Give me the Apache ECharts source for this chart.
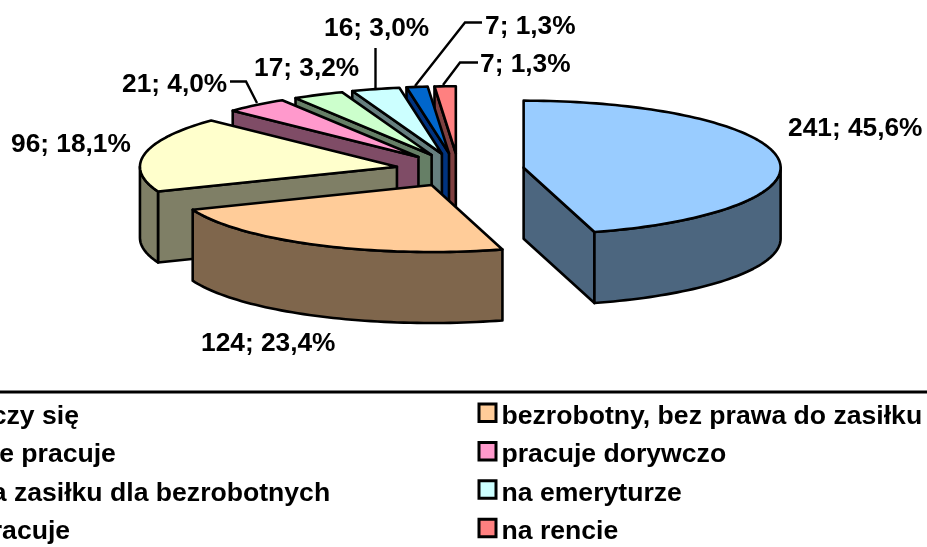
<!DOCTYPE html>
<html><head><meta charset="utf-8">
<style>html,body{margin:0;padding:0;background:#fff;overflow:hidden}#c{width:927px;height:547px}</style>
<script src="https://cdn.jsdelivr.net/npm/echarts@6/dist/echarts.min.js"></script>
</head><body><div id="c"></div>
<script>
const categories = ['uczy się','bezrobotny, bez prawa do zasiłku','nie pracuje','pracuje dorywczo','na zasiłku dla bezrobotnych','na emeryturze','pracuje','na rencie'];
const values = [241,124,96,21,17,16,7,7];
const colors = ['#99CCFF','#FFCC99','#FFFFCC','#FF99CC','#CCFFCC','#CCFFFF','#0066CC','#FF8080'];
const wallColors = ['#4C667F','#7F664C','#7F7F66','#7F4C66','#667F66','#667F7F','#00337F','#7F4040'];
// label anchors and leader lines (page pixels)
const labelPos = [[788,129],[201,344],[11,145],[122,85],[254,69],[324,29],[485,27],[480,65]];
const leaders = [null,null,null,
  [[230,81.5],[246,81.5],[257,103]],
  null,
  [[375.5,48],[375.5,88]],
  [[482,22.5],[465,22.5],[415,86]],
  [[478,62.5],[460,62.5],[443,85]]];
// pie geometry (page pixels)
const CX=460, CY=170, RX=257, RY=67, DEPTH=71, EXPLODE=0.25;
const sliceNudgeX=[0,0,0,-1,0,-1.5,-3,-1.5];
const FONT='"Liberation Sans", Arial, sans-serif';
const total = values.reduce((a,b)=>a+b,0);
const D2R=Math.PI/180;
const starts=[]; let acc=0; values.forEach(v=>{starts.push(acc); acc+=v/total*360;});

function slicePaths(i){
  const a0=starts[i], a1=a0+values[i]/total*360, mid=(a0+a1)/2;
  const cx=CX+sliceNudgeX[i]+EXPLODE*RX*Math.sin(mid*D2R), cy=CY-EXPLODE*RY*Math.cos(mid*D2R);
  const P=(a,dz)=>[cx+RX*Math.sin(a*D2R), cy-RY*Math.cos(a*D2R)+(dz||0)];
  const arc=(s,e,dz)=>{const n=Math.max(2,Math.ceil(Math.abs(e-s)/1.5)),o=[];for(let k=0;k<=n;k++)o.push(P(s+(e-s)*k/n,dz));return o;};
  return {a0,a1,cx,cy,P,arc};
}
function poly(points,fill,z){
  return {type:'polygon',z2:z,shape:{points},style:{fill,stroke:'#000',lineWidth:2.6,lineJoin:'round'}};
}
function render(i){
  return function(params,api){
    const {a0,a1,cx,cy,P,arc}=slicePaths(i);
    const kids=[];
    const wall=wallColors[i];
    const base=(a)=>[[cx,cy],P(a),P(a,DEPTH),[cx,cy+DEPTH]];
    if(a1>90 && a1<180) kids.push(poly(base(a1),wall,1));
    if(a0>180 && a0<360) kids.push(poly(base(a0),wall,1));
    const s=Math.max(a0,90), e=Math.min(a1,270);
    if(e>s){
      kids.push(poly(arc(s,e,0).concat(arc(e,s,DEPTH)),wall,2));
    }
    kids.push(poly([[cx,cy]].concat(arc(a0,a1,0)),colors[i],3));
    if(leaders[i]) kids.push({type:'polyline',z2:4,shape:{points:leaders[i]},style:{fill:null,stroke:'#000',lineWidth:2.4}});
    const pct=(values[i]/total*100).toFixed(1).replace('.',',');
    kids.push({type:'text',z2:5,x:labelPos[i][0],y:labelPos[i][1],
      style:{text:values[i]+'; '+pct+'%',fill:'#000',font:'bold 26.3px '+FONT,verticalAlign:'middle'}});
    return {type:'group',children:kids};
  };
}
// back slices first, then the front ones
const drawOrder=[7,6,5,4,3,2,1,0];
const series=drawOrder.map(i=>({
  type:'custom',name:categories[i],coordinateSystem:'none',silent:true,
  data:[[values[i]]],renderItem:render(i),
  itemStyle:{color:colors[i]},animation:false,clip:false
}));
function legend(left,idx){
  return {orient:'vertical',left,top:402.5,height:200,itemWidth:17,itemHeight:25,itemGap:10.4,padding:0,
    selectedMode:false,icon:'path://M0 0L17 0L17 17.5L0 17.5ZM0 25L0 25',
    data:idx.map(i=>categories[i]),
    itemStyle:{borderColor:'#000',borderWidth:3},
    textStyle:{fontFamily:FONT,fontWeight:'bold',fontSize:26.6,lineHeight:27,color:'#000',padding:[0,0,0,0.5]}};
}
const chart=echarts.init(document.getElementById('c'),null,{renderer:'canvas'});
chart.setOption({
  backgroundColor:'#fff',animation:false,
  legend:[legend(-48.5,[0,2,4,6]),legend(477.5,[1,3,5,7])],
  graphic:[{type:'line',shape:{x1:0,y1:392,x2:927,y2:392},style:{stroke:'#000',lineWidth:3}}],
  series
});
</script></body></html>
